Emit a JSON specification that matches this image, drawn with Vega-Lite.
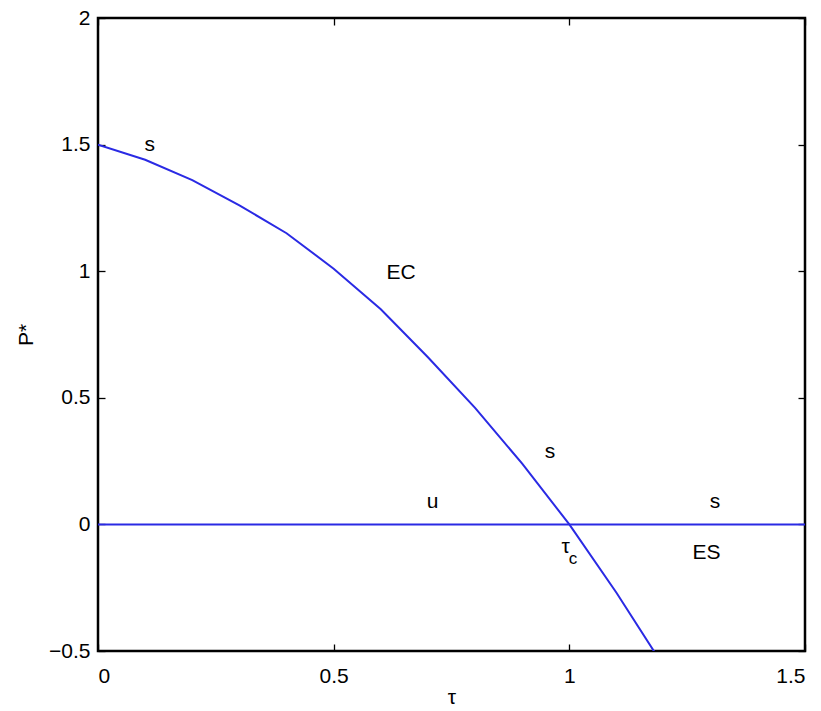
{
  "$schema": "https://vega.github.io/schema/vega-lite/v6.json",
  "width": 707,
  "height": 633,
  "autosize": {"type": "none"},
  "padding": {"left": 98, "top": 18, "right": 16, "bottom": 60},
  "background": "white",
  "config": {
    "view": {"stroke": "black", "strokeWidth": 2.5},
    "font": "Liberation Sans",
    "axis": {
      "grid": false,
      "domain": false,
      "tickColor": "black",
      "tickWidth": 1.3,
      "tickSize": -7,
      "labelFont": "Liberation Sans",
      "labelFontSize": 21,
      "labelColor": "black",
      "titleFont": "Liberation Sans",
      "titleFontSize": 21,
      "titleFontWeight": "normal",
      "titleColor": "black"
    }
  },
  "datasets": {
    "curves": [
      {"series": "EC", "tau": 0.0, "P": 1.5},
      {"series": "EC", "tau": 0.1, "P": 1.44},
      {"series": "EC", "tau": 0.2, "P": 1.36},
      {"series": "EC", "tau": 0.3, "P": 1.26},
      {"series": "EC", "tau": 0.4, "P": 1.15},
      {"series": "EC", "tau": 0.5, "P": 1.01},
      {"series": "EC", "tau": 0.6, "P": 0.85},
      {"series": "EC", "tau": 0.7, "P": 0.66},
      {"series": "EC", "tau": 0.8, "P": 0.46},
      {"series": "EC", "tau": 0.9, "P": 0.24},
      {"series": "EC", "tau": 1.0, "P": 0.0},
      {"series": "EC", "tau": 1.1, "P": -0.27},
      {"series": "EC", "tau": 1.2, "P": -0.56},
      {"series": "ES", "tau": 0.0, "P": 0.0},
      {"series": "ES", "tau": 1.5, "P": 0.0}
    ],
    "labels": [
      {"label": "s", "tau": 0.11, "P": 1.5},
      {"label": "EC", "tau": 0.643, "P": 0.993},
      {"label": "s", "tau": 0.959, "P": 0.286},
      {"label": "u", "tau": 0.71, "P": 0.088},
      {"label": "s", "tau": 1.309, "P": 0.088},
      {"label": "ES", "tau": 1.291, "P": -0.113},
      {"label": "τ", "tau": 0.992, "P": -0.088}
    ],
    "subs": [
      {"label": "c", "tau": 1.008, "P": -0.138}
    ]
  },
  "layer": [
    {
      "data": {"name": "curves"},
      "mark": {"type": "line", "color": "#2a2ae4", "strokeWidth": 2, "clip": true},
      "encoding": {
        "x": {
          "field": "tau", "type": "quantitative",
          "scale": {"domain": [0, 1.5], "nice": false, "zero": false},
          "axis": {"orient": "bottom", "values": [0, 0.5, 1, 1.5], "format": "~g", "title": "τ", "labelPadding": 21, "titlePadding": 0}
        },
        "y": {
          "field": "P", "type": "quantitative",
          "scale": {"domain": [-0.5, 2], "nice": false, "zero": false},
          "axis": {"orient": "left", "values": [-0.5, 0, 0.5, 1, 1.5, 2], "format": "~g", "title": "P*", "labelPadding": 15, "titlePadding": 12, "labelExpr": "replace(datum.label, '-', '\u2212')"}
        },
        "detail": {"field": "series"}
      }
    },
    {
      "data": {"name": "labels"},
      "mark": {"type": "text", "fontSize": 21, "color": "black", "font": "Liberation Sans"},
      "encoding": {
        "x": {"field": "tau", "type": "quantitative", "axis": {"orient": "top", "values": [0, 0.5, 1, 1.5], "labels": false, "title": null}},
        "y": {"field": "P", "type": "quantitative", "axis": {"orient": "right", "values": [-0.5, 0, 0.5, 1, 1.5, 2], "labels": false, "title": null}},
        "text": {"field": "label"}
      }
    },
    {
      "data": {"name": "subs"},
      "mark": {"type": "text", "fontSize": 17, "color": "black", "font": "Liberation Sans"},
      "encoding": {
        "x": {"field": "tau", "type": "quantitative", "axis": null},
        "y": {"field": "P", "type": "quantitative", "axis": null},
        "text": {"field": "label"}
      }
    }
  ],
  "resolve": {"axis": {"x": "independent", "y": "independent"}}
}
